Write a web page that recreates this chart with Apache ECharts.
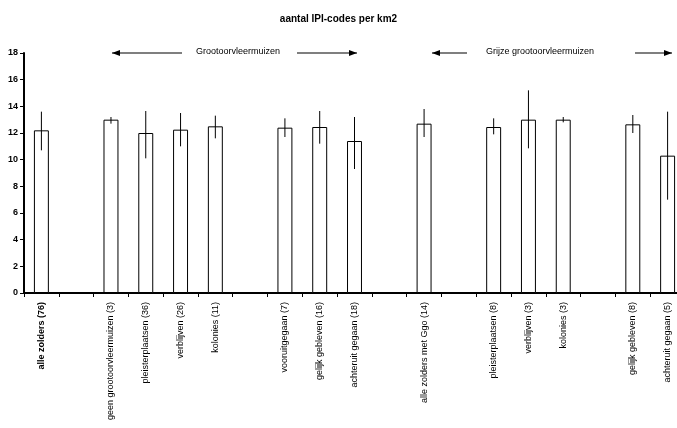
<!DOCTYPE html>
<html>
<head>
<meta charset="utf-8">
<script src="https://cdn.jsdelivr.net/npm/echarts@6/dist/echarts.min.js"></script>
<style>html,body{margin:0;padding:0;background:#fff}#c{width:677px;height:428px}</style>
</head>
<body>
<div id="c"></div>
<script>
var categories = ['alle zolders (76)', '', 'geen grootoorvleermuizen (3)', 'pleisterplaatsen (36)', 'verblijven (26)', 'kolonies (11)', '', 'vooruitgegaan (7)', 'gelijk gebleven (16)', 'achteruit gegaan (18)', '', 'alle zolders met Ggo (14)', '', 'pleisterplaatsen (8)', 'verblijven (3)', 'kolonies (3)', '', 'gelijk gebleven (8)', 'achteruit gegaan (5)'];
var means = [12.2, null, 13.0, 12.0, 12.25, 12.5, null, 12.4, 12.45, 11.4, null, 12.7, null, 12.45, 13.0, 13.0, null, 12.65, 10.3];
var lows  = [10.7, null, 12.7, 10.1, 11.0, 11.6, null, 11.7, 11.2, 9.3, null, 11.7, null, 11.9, 10.85, 12.8, null, 12.0, 7.0];
var highs = [13.6, null, 13.2, 13.65, 13.5, 13.3, null, 13.1, 13.65, 13.2, null, 13.8, null, 13.1, 15.2, 13.2, null, 13.35, 13.6];
var yTicks = [0, 2, 4, 6, 8, 10, 12, 14, 16, 18];
var titleText = 'aantal IPI-codes per km2';
var group1 = 'Grootoorvleermuizen';
var group2 = 'Grijze grootoorvleermuizen';

var errData = [];
for (var i = 0; i < categories.length; i++) {
  if (lows[i] != null) errData.push([i, lows[i], highs[i]]);
}

var chart = echarts.init(document.getElementById('c'), null, {renderer: 'canvas'});
var font = 'Liberation Sans, Arial, sans-serif';

function arrow(x1, x2, y, headLeft) {
  var hx = headLeft ? x1 : x2;
  var dir = headLeft ? 1 : -1;
  return [
    {type: 'line', shape: {x1: x1, y1: y, x2: x2, y2: y}, style: {stroke: '#000', lineWidth: 1.2}},
    {type: 'polygon', shape: {points: [[hx, y], [hx + dir * 8, y - 3], [hx + dir * 8, y + 3]]}, style: {fill: '#000'}}
  ];
}

var graphics = [].concat(
  arrow(112, 182, 53, true),
  arrow(297, 357, 53, false),
  arrow(432, 467, 53, true),
  arrow(635, 672, 53, false),
  [
    {type: 'text', left: 196, top: 47, style: {text: group1, font: '9px ' + font, fill: '#000'}},
    {type: 'text', left: 486, top: 47, style: {text: group2, font: '9px ' + font, fill: '#000'}}
  ]
);

chart.setOption({
  animation: false,
  backgroundColor: '#fff',
  title: {text: titleText, left: 'center', top: 9, textStyle: {fontFamily: font, fontSize: 10, fontWeight: 'bold', color: '#000'}},
  grid: {left: 24, width: 661, top: 53, bottom: 135, containLabel: false, outerBoundsMode: 'none'},
  xAxis: {
    type: 'category',
    data: categories,
    axisLine: {lineStyle: {color: '#000', width: 2}},
    axisTick: {show: true, interval: 0, length: 4, lineStyle: {color: '#000', width: 1}},
    axisLabel: {
      interval: 0, rotate: 90, margin: 9, color: '#000', fontFamily: font, fontSize: 9,
      formatter: function (v, idx) { return idx === 0 ? '{b|' + v + '}' : v; },
      rich: {b: {fontWeight: 'bold', fontFamily: font, fontSize: 9, color: '#000'}}
    }
  },
  yAxis: {
    type: 'value', min: 0, max: 18, interval: 2,
    splitLine: {show: false},
    axisLine: {show: true, lineStyle: {color: '#000', width: 2}},
    axisTick: {show: true, length: 4, lineStyle: {color: '#000'}},
    axisLabel: {color: '#000', fontFamily: font, fontSize: 9, fontWeight: 'bold', margin: 6,
      formatter: function (v) { return yTicks.indexOf(v) >= 0 ? String(v) : ''; }}
  },
  series: [
    {
      type: 'bar', data: means, barWidth: '43%',
      itemStyle: {color: '#fff', borderColor: '#000', borderWidth: 1}
    },
    {
      type: 'custom', data: errData, z: 5,
      renderItem: function (params, api) {
        var x = api.value(0);
        var p1 = api.coord([x, api.value(1)]);
        var p2 = api.coord([x, api.value(2)]);
        return {type: 'line', shape: {x1: p1[0], y1: p1[1], x2: p2[0], y2: p2[1]}, style: {stroke: '#000', lineWidth: 1}};
      }
    }
  ],
  graphic: graphics
});
</script>
</body>
</html>
